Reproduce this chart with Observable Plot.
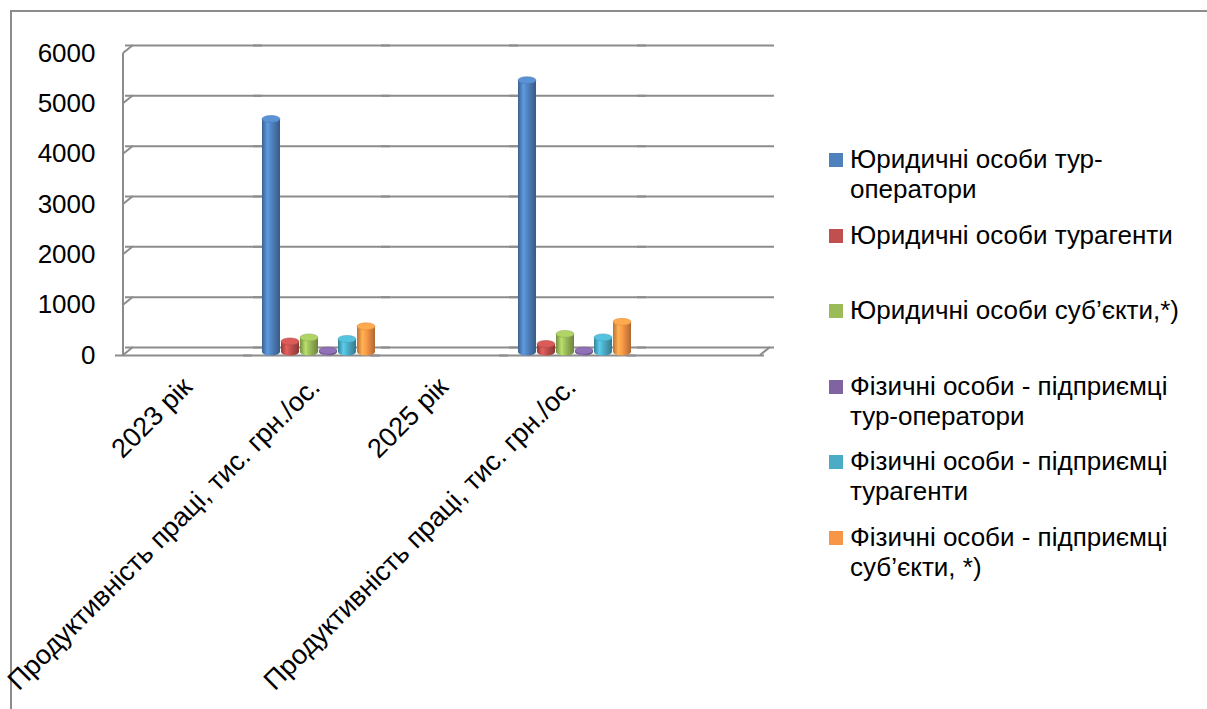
<!DOCTYPE html>
<html><head><meta charset="utf-8">
<script src="https://cdn.jsdelivr.net/npm/d3@7"></script>
<script src="https://cdn.jsdelivr.net/npm/@observablehq/plot@0.6"></script>
<style>
body{margin:0;background:#fff;font-family:"Liberation Sans",Arial,sans-serif;}
#wrap{position:relative;width:1207px;height:709px;overflow:hidden;background:#fff;}
#frame{position:absolute;left:10px;top:10px;width:1300px;height:800px;border-top:2px solid #8c8c8c;border-left:2px solid #8c8c8c;}
#chart{position:absolute;left:0;top:0;}
#legend{position:absolute;left:829px;top:144px;width:375px;}
.item{position:relative;height:75.5px;padding-left:21px;width:350px;font-size:26px;line-height:30px;color:#000;}
.sw{position:absolute;left:0;top:9px;width:14px;height:14px;}
</style></head>
<body><div id="wrap"><div id="frame"></div><div id="chart"></div><div id="legend"></div></div>
<script>
const categories = ["2023 рік", "Продуктивність праці, тис. грн./ос.", "2025 рік", "Продуктивність праці, тис. грн./ос.", ""];
const seriesNames = [
  "Юридичні особи тур-оператори",
  "Юридичні особи турагенти",
  "Юридичні особи суб’єкти,*)",
  "Фізичні особи - підприємці тур-оператори",
  "Фізичні особи - підприємці турагенти",
  "Фізичні особи - підприємці суб’єкти, *)"
];
const seriesColors = ["#4F81BD", "#C0504D", "#9BBB59", "#8064A2", "#4BACC6", "#F79646"];
const barCategoryIndex = [1, 3];
const values2023 = [4630, 210, 290, 30, 260, 510];
const values2025 = [5400, 160, 360, 30, 290, 600];
const yTicks = [0, 1000, 2000, 3000, 4000, 5000, 6000];

const valueSets = [values2023, values2025];
const rows = [];
valueSets.forEach((vals, g) => vals.forEach((v, i) => rows.push({cat: barCategoryIndex[g], series: seriesNames[i], value: v})));
const facetSlots = categories.map((c, i) => ({cat: i}));

const grid = "#8c8c8c";
const plot = Plot.plot({
  width: 800, height: 709,
  marginLeft: 130, marginRight: 37, marginTop: 50, marginBottom: 357,
  style: {fontFamily: "'Liberation Sans', Arial, sans-serif", fontSize: "26px", background: "transparent", overflow: "visible", color: "#000"},
  fx: {domain: d3.range(categories.length), padding: 0.08, label: null},
  x: {domain: seriesNames, padding: 0.05, axis: null},
  y: {domain: [0, 6000], label: null},
  color: {domain: seriesNames, range: seriesNames.map((d, i) => `url(#cyl${i})`)},
  marks: [
    Plot.text(facetSlots, {fx: "cat", text: () => ""}),
    Plot.ruleY(yTicks, {dy: -5, insetLeft: -7, insetRight: -12, stroke: grid, strokeWidth: 2}),
    Plot.ruleY([0], {dy: 3, insetLeft: -17, insetRight: -2, stroke: grid, strokeWidth: 2}),
    Plot.axisY(yTicks, {tickSize: 0, tickPadding: 37, dy: 3, fontSize: 26, fill: "#000", tickFormat: d => String(d)}),
    Plot.axisFx({anchor: "bottom", tickRotate: -45, tickSize: 0, tickPadding: 30, dx: -4, fontSize: 27, fill: "#000", tickFormat: i => categories[i], label: null}),
    Plot.barY(rows, {fx: "cat", x: "series", y: "value", fill: "series", className: "cyl"})
  ]
});
document.getElementById("chart").appendChild(plot);

// cylinder gradients
const svg = d3.select(plot);
const defs = svg.insert("defs", ":first-child");
seriesColors.forEach((c, i) => {
  const g = defs.append("linearGradient").attr("id", `cyl${i}`).attr("x1", 0).attr("x2", 1).attr("y1", 0).attr("y2", 0);
  const col = d3.color(c);
  g.append("stop").attr("offset", "0%").attr("stop-color", col.darker(0.8));
  g.append("stop").attr("offset", "30%").attr("stop-color", col.brighter(0.5));
  g.append("stop").attr("offset", "55%").attr("stop-color", col);
  g.append("stop").attr("offset", "100%").attr("stop-color", col.darker(1.0));
});
// cylinder caps
svg.selectAll(".cyl rect").each(function() {
  const r = d3.select(this);
  const x = +r.attr("x"), y = +r.attr("y"), w = +r.attr("width"), h = +r.attr("height");
  const fill = r.attr("fill");
  const idx = +fill.replace(/[^0-9]/g, "");
  const p = d3.select(this.parentNode);
  p.insert("ellipse", () => this).attr("cx", x + w / 2).attr("cy", y + h).attr("rx", w / 2).attr("ry", 3.5).attr("fill", fill);
  p.append("ellipse").attr("cx", x + w / 2).attr("cy", y).attr("rx", w / 2).attr("ry", 3.5)
    .attr("fill", d3.color(seriesColors[idx]).brighter(0.35)).attr("stroke", d3.color(seriesColors[idx]).darker(0.3)).attr("stroke-width", 0.5);
});
// 3D wall & floor edges
const yS = plot.scale("y");
const L = 130, R = 800 - 37;
const edges = svg.insert("g", "defs + *").attr("fill", "none").attr("stroke", grid).attr("stroke-width", 2);
let d = `M${L - 7},${yS.apply(6000) + 3}L${L - 7},${yS.apply(0) + 3}`;
yTicks.forEach(v => { d += `M${L - 7},${yS.apply(v) + 3}L${L + 3},${yS.apply(v) - 5}`; });
d += `M${R + 7},${yS.apply(0) - 5}L${R - 3},${yS.apply(0) + 3}`;
edges.append("path").attr("d", d);

// legend
const legend = d3.select("#legend");
seriesNames.forEach((s, i) => {
  const it = legend.append("div").attr("class", "item");
  it.append("div").attr("class", "sw").style("background", seriesColors[i]);
  it.append("span").text(s);
});
</script>
</body></html>
